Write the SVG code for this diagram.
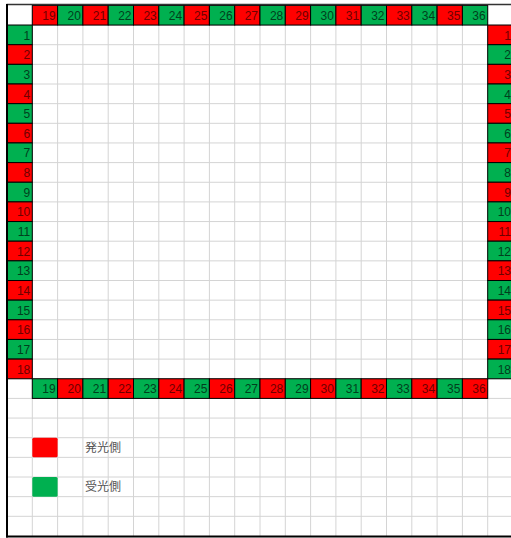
<svg xmlns="http://www.w3.org/2000/svg" width="511" height="538" viewBox="0 0 511 538">
<style>
.grid{fill:none;stroke:#d4d4d4;stroke-width:1}
.r{fill:#ff0000;stroke:#000;stroke-width:1}
.g{fill:#00b050;stroke:#000;stroke-width:1}
text{font-family:"Liberation Sans",Arial,sans-serif;font-size:12px;text-anchor:end}
.tr{fill:#6e0000}
.tg{fill:#003f1d}
.lg{font-family:"Noto Sans CJK JP",sans-serif;font-size:12px;fill:#555;text-anchor:start}
</style>
<rect x="0" y="0" width="511" height="538" fill="#fff"/>
<g id="gridlines">
<path class="grid" d="M32.3 5.4V536M57.6 5.4V536M82.9 5.4V536M108.2 5.4V536M133.5 5.4V536M158.8 5.4V536M184.1 5.4V536M209.4 5.4V536M234.7 5.4V536M260 5.4V536M285.3 5.4V536M310.6 5.4V536M335.9 5.4V536M361.2 5.4V536M386.5 5.4V536M411.8 5.4V536M437.1 5.4V536M462.4 5.4V536M487.7 5.4V536M7 25.05H511M7 44.7H511M7 64.35H511M7 84H511M7 103.65H511M7 123.3H511M7 142.95H511M7 162.6H511M7 182.25H511M7 201.9H511M7 221.55H511M7 241.2H511M7 260.85H511M7 280.5H511M7 300.15H511M7 319.8H511M7 339.45H511M7 359.1H511M7 378.75H511M7 398.4H511M7 418.05H511M7 437.7H511M7 457.35H511M7 477H511M7 496.65H511M7 516.3H511"/>
</g>
<g id="top-header">
<g id="t19"><rect class="r" x="32.3" y="5.4" width="25.3" height="19.65"/><text class="tr" x="55.6" y="19.9">19</text></g>
<g id="t20"><rect class="g" x="57.6" y="5.4" width="25.3" height="19.65"/><text class="tg" x="80.9" y="19.9">20</text></g>
<g id="t21"><rect class="r" x="82.9" y="5.4" width="25.3" height="19.65"/><text class="tr" x="106.2" y="19.9">21</text></g>
<g id="t22"><rect class="g" x="108.2" y="5.4" width="25.3" height="19.65"/><text class="tg" x="131.5" y="19.9">22</text></g>
<g id="t23"><rect class="r" x="133.5" y="5.4" width="25.3" height="19.65"/><text class="tr" x="156.8" y="19.9">23</text></g>
<g id="t24"><rect class="g" x="158.8" y="5.4" width="25.3" height="19.65"/><text class="tg" x="182.1" y="19.9">24</text></g>
<g id="t25"><rect class="r" x="184.1" y="5.4" width="25.3" height="19.65"/><text class="tr" x="207.4" y="19.9">25</text></g>
<g id="t26"><rect class="g" x="209.4" y="5.4" width="25.3" height="19.65"/><text class="tg" x="232.7" y="19.9">26</text></g>
<g id="t27"><rect class="r" x="234.7" y="5.4" width="25.3" height="19.65"/><text class="tr" x="258" y="19.9">27</text></g>
<g id="t28"><rect class="g" x="260" y="5.4" width="25.3" height="19.65"/><text class="tg" x="283.3" y="19.9">28</text></g>
<g id="t29"><rect class="r" x="285.3" y="5.4" width="25.3" height="19.65"/><text class="tr" x="308.6" y="19.9">29</text></g>
<g id="t30"><rect class="g" x="310.6" y="5.4" width="25.3" height="19.65"/><text class="tg" x="333.9" y="19.9">30</text></g>
<g id="t31"><rect class="r" x="335.9" y="5.4" width="25.3" height="19.65"/><text class="tr" x="359.2" y="19.9">31</text></g>
<g id="t32"><rect class="g" x="361.2" y="5.4" width="25.3" height="19.65"/><text class="tg" x="384.5" y="19.9">32</text></g>
<g id="t33"><rect class="r" x="386.5" y="5.4" width="25.3" height="19.65"/><text class="tr" x="409.8" y="19.9">33</text></g>
<g id="t34"><rect class="g" x="411.8" y="5.4" width="25.3" height="19.65"/><text class="tg" x="435.1" y="19.9">34</text></g>
<g id="t35"><rect class="r" x="437.1" y="5.4" width="25.3" height="19.65"/><text class="tr" x="460.4" y="19.9">35</text></g>
<g id="t36"><rect class="g" x="462.4" y="5.4" width="25.3" height="19.65"/><text class="tg" x="485.7" y="19.9">36</text></g>
</g>
<g id="bottom-header">
<g id="b19"><rect class="g" x="32.3" y="378.75" width="25.3" height="19.65"/><text class="tg" x="55.6" y="393.25">19</text></g>
<g id="b20"><rect class="r" x="57.6" y="378.75" width="25.3" height="19.65"/><text class="tr" x="80.9" y="393.25">20</text></g>
<g id="b21"><rect class="g" x="82.9" y="378.75" width="25.3" height="19.65"/><text class="tg" x="106.2" y="393.25">21</text></g>
<g id="b22"><rect class="r" x="108.2" y="378.75" width="25.3" height="19.65"/><text class="tr" x="131.5" y="393.25">22</text></g>
<g id="b23"><rect class="g" x="133.5" y="378.75" width="25.3" height="19.65"/><text class="tg" x="156.8" y="393.25">23</text></g>
<g id="b24"><rect class="r" x="158.8" y="378.75" width="25.3" height="19.65"/><text class="tr" x="182.1" y="393.25">24</text></g>
<g id="b25"><rect class="g" x="184.1" y="378.75" width="25.3" height="19.65"/><text class="tg" x="207.4" y="393.25">25</text></g>
<g id="b26"><rect class="r" x="209.4" y="378.75" width="25.3" height="19.65"/><text class="tr" x="232.7" y="393.25">26</text></g>
<g id="b27"><rect class="g" x="234.7" y="378.75" width="25.3" height="19.65"/><text class="tg" x="258" y="393.25">27</text></g>
<g id="b28"><rect class="r" x="260" y="378.75" width="25.3" height="19.65"/><text class="tr" x="283.3" y="393.25">28</text></g>
<g id="b29"><rect class="g" x="285.3" y="378.75" width="25.3" height="19.65"/><text class="tg" x="308.6" y="393.25">29</text></g>
<g id="b30"><rect class="r" x="310.6" y="378.75" width="25.3" height="19.65"/><text class="tr" x="333.9" y="393.25">30</text></g>
<g id="b31"><rect class="g" x="335.9" y="378.75" width="25.3" height="19.65"/><text class="tg" x="359.2" y="393.25">31</text></g>
<g id="b32"><rect class="r" x="361.2" y="378.75" width="25.3" height="19.65"/><text class="tr" x="384.5" y="393.25">32</text></g>
<g id="b33"><rect class="g" x="386.5" y="378.75" width="25.3" height="19.65"/><text class="tg" x="409.8" y="393.25">33</text></g>
<g id="b34"><rect class="r" x="411.8" y="378.75" width="25.3" height="19.65"/><text class="tr" x="435.1" y="393.25">34</text></g>
<g id="b35"><rect class="g" x="437.1" y="378.75" width="25.3" height="19.65"/><text class="tg" x="460.4" y="393.25">35</text></g>
<g id="b36"><rect class="r" x="462.4" y="378.75" width="25.3" height="19.65"/><text class="tr" x="485.7" y="393.25">36</text></g>
</g>
<g id="left-column">
<g id="l1"><rect class="g" x="7" y="25.05" width="25.3" height="19.65"/><text class="tg" x="30.3" y="39.55">1</text></g>
<g id="l2"><rect class="r" x="7" y="44.7" width="25.3" height="19.65"/><text class="tr" x="30.3" y="59.2">2</text></g>
<g id="l3"><rect class="g" x="7" y="64.35" width="25.3" height="19.65"/><text class="tg" x="30.3" y="78.85">3</text></g>
<g id="l4"><rect class="r" x="7" y="84" width="25.3" height="19.65"/><text class="tr" x="30.3" y="98.5">4</text></g>
<g id="l5"><rect class="g" x="7" y="103.65" width="25.3" height="19.65"/><text class="tg" x="30.3" y="118.15">5</text></g>
<g id="l6"><rect class="r" x="7" y="123.3" width="25.3" height="19.65"/><text class="tr" x="30.3" y="137.8">6</text></g>
<g id="l7"><rect class="g" x="7" y="142.95" width="25.3" height="19.65"/><text class="tg" x="30.3" y="157.45">7</text></g>
<g id="l8"><rect class="r" x="7" y="162.6" width="25.3" height="19.65"/><text class="tr" x="30.3" y="177.1">8</text></g>
<g id="l9"><rect class="g" x="7" y="182.25" width="25.3" height="19.65"/><text class="tg" x="30.3" y="196.75">9</text></g>
<g id="l10"><rect class="r" x="7" y="201.9" width="25.3" height="19.65"/><text class="tr" x="30.3" y="216.4">10</text></g>
<g id="l11"><rect class="g" x="7" y="221.55" width="25.3" height="19.65"/><text class="tg" x="30.3" y="236.05">11</text></g>
<g id="l12"><rect class="r" x="7" y="241.2" width="25.3" height="19.65"/><text class="tr" x="30.3" y="255.7">12</text></g>
<g id="l13"><rect class="g" x="7" y="260.85" width="25.3" height="19.65"/><text class="tg" x="30.3" y="275.35">13</text></g>
<g id="l14"><rect class="r" x="7" y="280.5" width="25.3" height="19.65"/><text class="tr" x="30.3" y="295">14</text></g>
<g id="l15"><rect class="g" x="7" y="300.15" width="25.3" height="19.65"/><text class="tg" x="30.3" y="314.65">15</text></g>
<g id="l16"><rect class="r" x="7" y="319.8" width="25.3" height="19.65"/><text class="tr" x="30.3" y="334.3">16</text></g>
<g id="l17"><rect class="g" x="7" y="339.45" width="25.3" height="19.65"/><text class="tg" x="30.3" y="353.95">17</text></g>
<g id="l18"><rect class="r" x="7" y="359.1" width="25.3" height="19.65"/><text class="tr" x="30.3" y="373.6">18</text></g>
</g>
<g id="right-column">
<g id="r1"><rect class="r" x="487.7" y="25.05" width="26" height="19.65"/><text class="tr" x="511" y="39.55">1</text></g>
<g id="r2"><rect class="g" x="487.7" y="44.7" width="26" height="19.65"/><text class="tg" x="511" y="59.2">2</text></g>
<g id="r3"><rect class="r" x="487.7" y="64.35" width="26" height="19.65"/><text class="tr" x="511" y="78.85">3</text></g>
<g id="r4"><rect class="g" x="487.7" y="84" width="26" height="19.65"/><text class="tg" x="511" y="98.5">4</text></g>
<g id="r5"><rect class="r" x="487.7" y="103.65" width="26" height="19.65"/><text class="tr" x="511" y="118.15">5</text></g>
<g id="r6"><rect class="g" x="487.7" y="123.3" width="26" height="19.65"/><text class="tg" x="511" y="137.8">6</text></g>
<g id="r7"><rect class="r" x="487.7" y="142.95" width="26" height="19.65"/><text class="tr" x="511" y="157.45">7</text></g>
<g id="r8"><rect class="g" x="487.7" y="162.6" width="26" height="19.65"/><text class="tg" x="511" y="177.1">8</text></g>
<g id="r9"><rect class="r" x="487.7" y="182.25" width="26" height="19.65"/><text class="tr" x="511" y="196.75">9</text></g>
<g id="r10"><rect class="g" x="487.7" y="201.9" width="26" height="19.65"/><text class="tg" x="511" y="216.4">10</text></g>
<g id="r11"><rect class="r" x="487.7" y="221.55" width="26" height="19.65"/><text class="tr" x="511" y="236.05">11</text></g>
<g id="r12"><rect class="g" x="487.7" y="241.2" width="26" height="19.65"/><text class="tg" x="511" y="255.7">12</text></g>
<g id="r13"><rect class="r" x="487.7" y="260.85" width="26" height="19.65"/><text class="tr" x="511" y="275.35">13</text></g>
<g id="r14"><rect class="g" x="487.7" y="280.5" width="26" height="19.65"/><text class="tg" x="511" y="295">14</text></g>
<g id="r15"><rect class="r" x="487.7" y="300.15" width="26" height="19.65"/><text class="tr" x="511" y="314.65">15</text></g>
<g id="r16"><rect class="g" x="487.7" y="319.8" width="26" height="19.65"/><text class="tg" x="511" y="334.3">16</text></g>
<g id="r17"><rect class="r" x="487.7" y="339.45" width="26" height="19.65"/><text class="tr" x="511" y="353.95">17</text></g>
<g id="r18"><rect class="g" x="487.7" y="359.1" width="26" height="19.65"/><text class="tg" x="511" y="373.6">18</text></g>
</g>
<g id="legend-emit">
<rect x="32.3" y="437.7" width="25.3" height="19.65" rx="1.5" fill="#ff0000"/>
<text class="lg" x="85" y="451.5">発光側</text>
</g>
<g id="legend-receive">
<rect x="32.3" y="477" width="25.3" height="19.65" rx="1.5" fill="#00b050"/>
<text class="lg" x="85" y="490.8">受光側</text>
</g>
<g id="border">
<line x1="6.5" y1="4.6" x2="511" y2="4.6" stroke="#333" stroke-width="1.5"/>
<line x1="7" y1="4" x2="7" y2="537.5" stroke="#000" stroke-width="2"/>
<line x1="6" y1="536.5" x2="511" y2="536.5" stroke="#000" stroke-width="2"/>
</g>
</svg>
